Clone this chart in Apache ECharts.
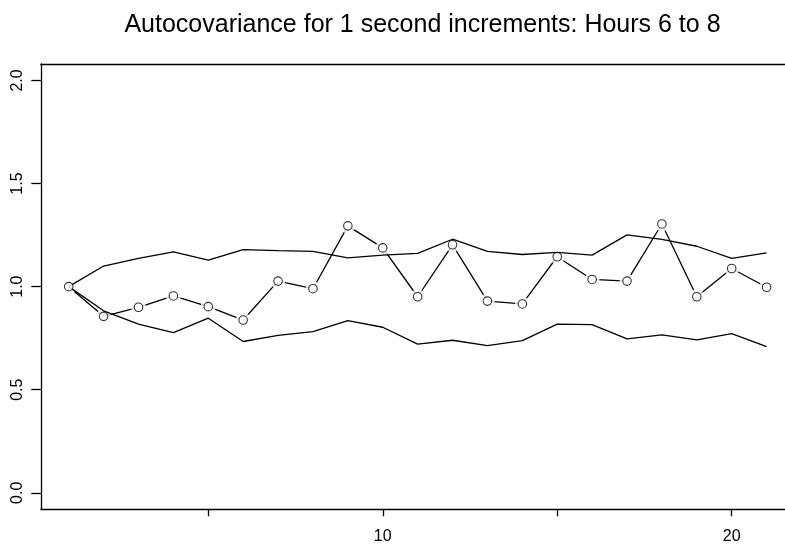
<!DOCTYPE html>
<html>
<head>
<meta charset="utf-8">
<script src="https://cdn.jsdelivr.net/npm/echarts@6/dist/echarts.min.js"></script>
<style>
html,body{margin:0;padding:0;background:#fff;overflow:hidden;}
#c{width:785px;height:546px;}
</style>
</head>
<body>
<div id="c"></div>
<script>
const titleText = "Autocovariance for 1 second increments: Hours 6 to 8";
const lags = [1,2,3,4,5,6,7,8,9,10,11,12,13,14,15,16,17,18,19,20,21];
const acov = [1.000,0.856,0.900,0.955,0.903,0.838,1.027,0.990,1.295,1.188,0.951,1.203,0.930,0.916,1.145,1.035,1.027,1.304,0.951,1.088,0.997];
const upper = [1.000,1.100,1.137,1.169,1.129,1.180,1.175,1.171,1.140,1.153,1.161,1.230,1.171,1.156,1.166,1.153,1.251,1.229,1.196,1.137,1.164];
const lower = [1.000,0.883,0.818,0.777,0.847,0.734,0.764,0.782,0.835,0.803,0.721,0.740,0.714,0.738,0.818,0.816,0.747,0.766,0.742,0.772,0.709];
const xTicks = [5,10,15,20];
const xLabels = [10,20];
const yTicks = [0,0.5,1,1.5,2];

const pairs = arr => lags.map((x,i)=>[x,arr[i]]);
const font = "Liberation Sans";

const chart = echarts.init(document.getElementById('c'), null, {renderer:'canvas'});
chart.setOption({
  animation:false,
  backgroundColor:'#fff',
  textStyle:{fontFamily:font},
  title:{
    text:titleText,
    left:417.5, top:8, textAlign:'center',
    textStyle:{fontFamily:font,fontSize:25,fontWeight:'normal',color:'#000'}
  },
  grid:{left:40.8, top:64, right:-9.5, bottom:36.7, containLabel:false, outerBoundsMode:'none', show:false},
  xAxis:[{
    type:'value', min:0.2, max:21.8,
    splitLine:{show:false},
    axisLine:{show:true, onZero:false, lineStyle:{color:'#000',width:1.3}},
    axisTick:{show:true, length:7, lineStyle:{color:'#000',width:1.3}, customValues:xTicks},
    axisLabel:{show:true, customValues:xLabels, margin:19, color:'#000', fontSize:16, fontFamily:font}
  },{
    type:'value', min:0.2, max:21.8, position:'top',
    splitLine:{show:false},
    axisLine:{show:true, onZero:false, lineStyle:{color:'#000',width:1.3}},
    axisTick:{show:false}, axisLabel:{show:false}
  }],
  yAxis:{
    type:'value', min:-0.08, max:2.08,
    splitLine:{show:false},
    axisLine:{show:true, onZero:false, lineStyle:{color:'#000',width:1.3}},
    axisTick:{show:true, length:9.5, lineStyle:{color:'#000',width:1.3}, customValues:yTicks},
    axisLabel:{show:true, customValues:yTicks, rotate:90, margin:15, color:'#000', fontSize:16, fontFamily:font,
      formatter:v=>Number(v).toFixed(1)}
  },
  series:[
    {type:'line', data:pairs(acov), showSymbol:false, lineStyle:{color:'#000',width:1.3}, z:2, silent:true},
    {type:'scatter', data:pairs(acov), symbol:'circle', symbolSize:15, itemStyle:{color:'#fff',borderWidth:0}, z:3, silent:true},
    {type:'line', data:pairs(upper), showSymbol:false, lineStyle:{color:'#000',width:1.3}, z:4, silent:true},
    {type:'line', data:pairs(lower), showSymbol:false, lineStyle:{color:'#000',width:1.3}, z:4, silent:true},
    {type:'scatter', data:pairs(acov), symbol:'circle', symbolSize:8.5, itemStyle:{color:'#fff',borderColor:'#000',borderWidth:1.1}, z:5, silent:true}
  ]
});
</script>
</body>
</html>
